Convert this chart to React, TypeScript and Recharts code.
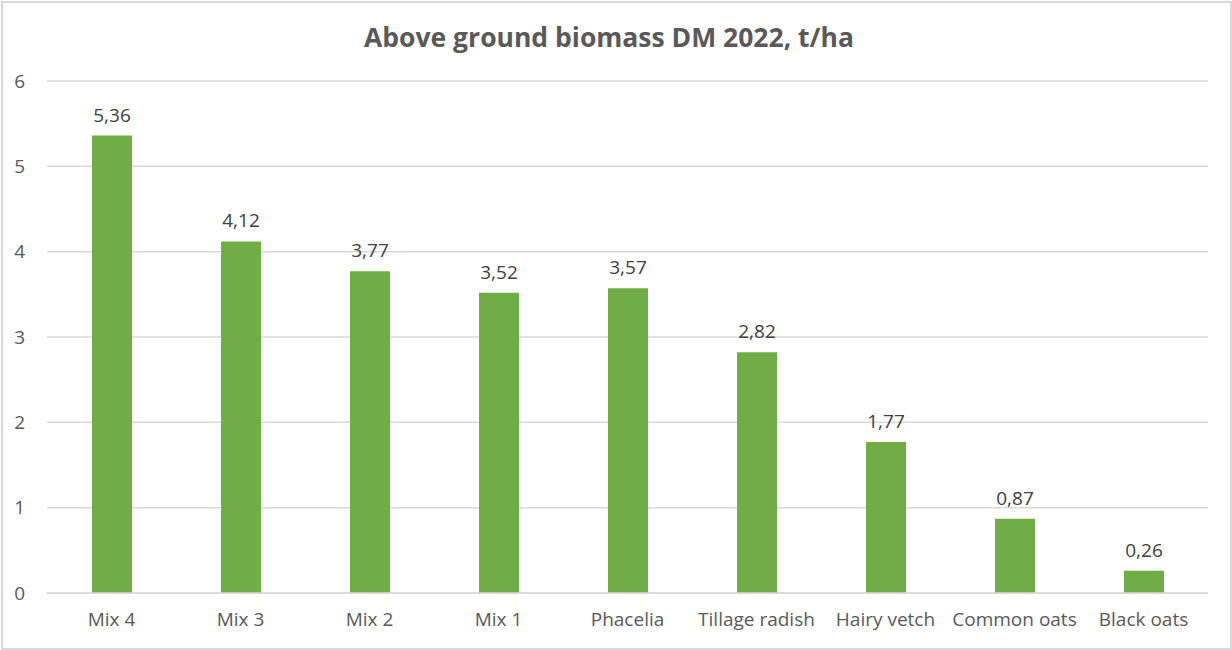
import { Bar, BarChart, CartesianGrid, LabelList, XAxis, YAxis } from 'recharts'

const crops = ['Mix 4', 'Mix 3', 'Mix 2', 'Mix 1', 'Phacelia', 'Tillage radish', 'Hairy vetch', 'Common oats', 'Black oats']
const biomass = [5.36, 4.12, 3.77, 3.52, 3.57, 2.82, 1.77, 0.87, 0.26]
const yTicks = [0, 1, 2, 3, 4, 5, 6]

const data = crops.map((crop, i) => ({ crop, biomass: biomass[i] }))

const font = '"Open Sans", sans-serif'
const axisText = { fill: '#595959', fontSize: 19, fontFamily: font }

export default function App() {
  return (
    <div style={{ position: 'absolute', left: 0, top: 0, width: 1232, height: 650, background: '#fff' }}>
      <div
        style={{
          position: 'absolute',
          left: 1,
          top: 1,
          width: 1227,
          height: 645,
          border: '2px solid #d9d9d9',
          pointerEvents: 'none',
        }}
      />
      <div
        style={{
          position: 'absolute',
          left: 0,
          top: 18,
          width: 1218,
          textAlign: 'center',
          fontFamily: font,
          fontWeight: 700,
          fontSize: 26.5,
          color: '#595959',
          lineHeight: '38px',
        }}
      >
        Above ground biomass DM 2022, t/ha
      </div>
      <BarChart width={1232} height={650} data={data} margin={{ top: 81, right: 24, left: 0, bottom: 0 }}>
        <CartesianGrid vertical={false} stroke="#d9d9d9" strokeWidth={1.5} />
        <XAxis
          dataKey="crop"
          height={57}
          tickLine={false}
          tickSize={0}
          tickMargin={20}
          axisLine={{ stroke: '#d9d9d9', strokeWidth: 1.5 }}
          tick={axisText}
          interval={0}
        />
        <YAxis
          width={47}
          domain={[0, 6]}
          ticks={yTicks}
          tickLine={false}
          tickSize={0}
          tickMargin={22}
          axisLine={false}
          tick={axisText}
        />
        <Bar dataKey="biomass" fill="#70ad47" barSize={40} isAnimationActive={false}>
          <LabelList
            dataKey="biomass"
            position="top"
            offset={14}
            formatter={(v: number) => v.toFixed(2).replace('.', ',')}
            style={{ fill: '#404040', fontSize: 19, fontFamily: font }}
          />
        </Bar>
      </BarChart>
    </div>
  )
}
